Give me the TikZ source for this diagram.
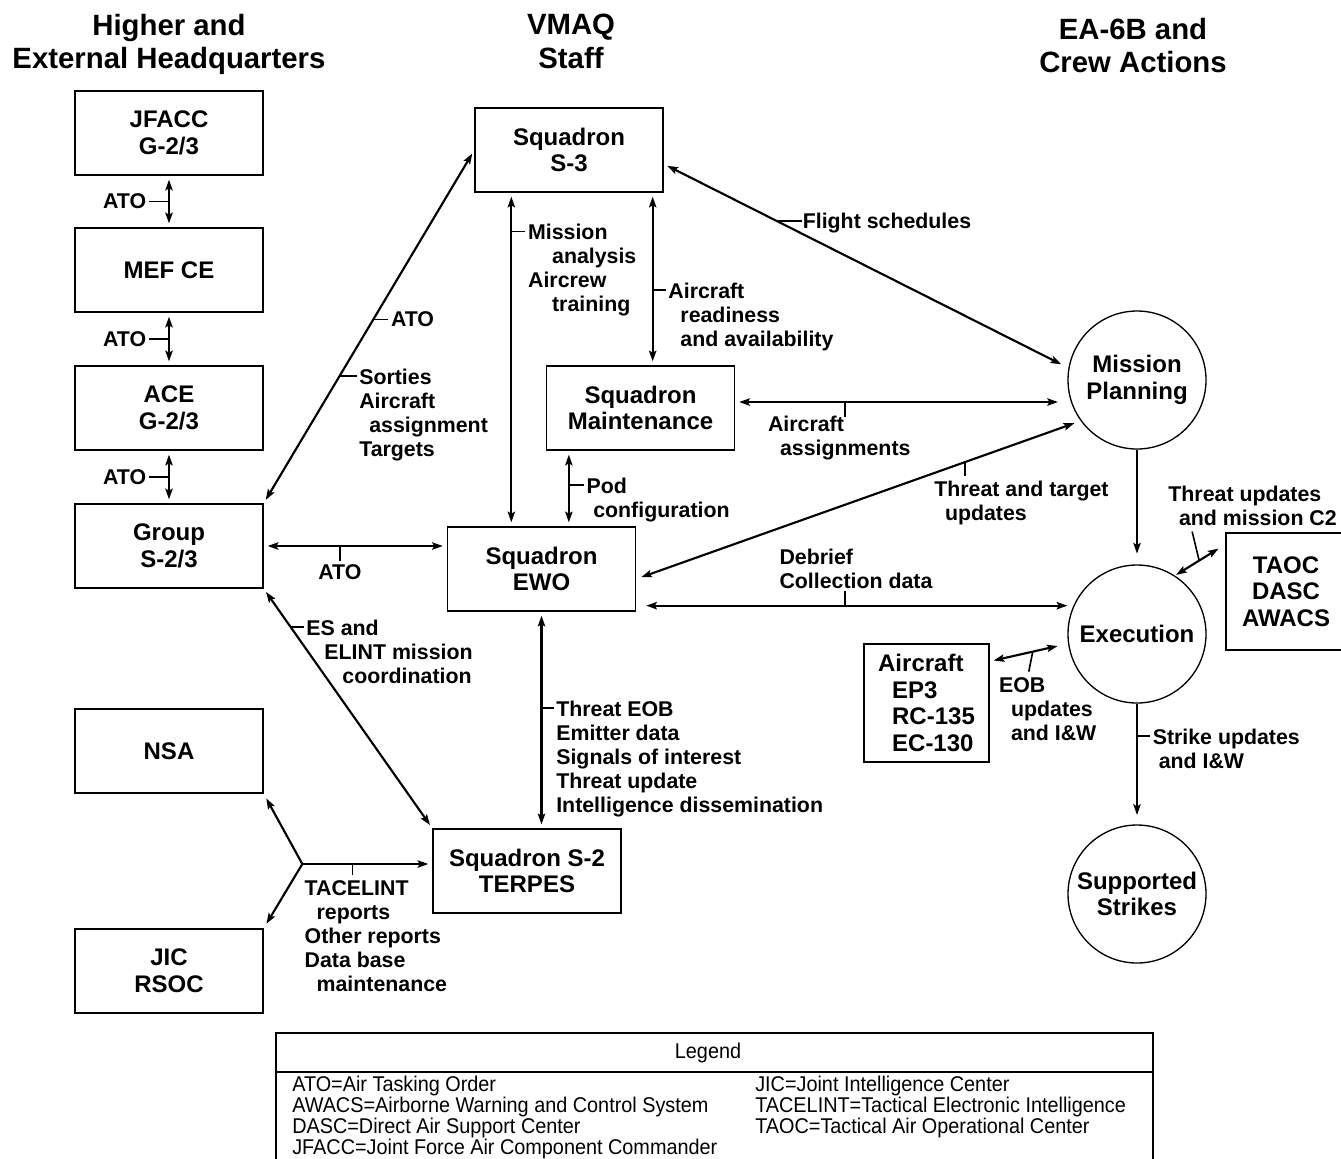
\documentclass[tikz,border=0pt]{standalone}
\usepackage{fontspec}
\setmainfont{Liberation Sans}
\newfontfamily\legendfont[FakeStretch=0.93]{Liberation Sans}
\usetikzlibrary{arrows.meta,calc}

\newcommand{\indnt}[1][9pt]{\hspace*{#1}}

\tikzset{
  unit/.style={draw, line width=1pt, minimum width=141pt, minimum height=63pt, inner sep=0pt, align=center, font=\fontsize{18}{20}\selectfont\bfseries},
  phase/.style={draw, circle, line width=1pt, minimum size=103.5pt, inner sep=0pt, align=center, font=\fontsize{18}{20}\selectfont\bfseries},
  head/.style={align=center, inner sep=0pt, font=\fontsize{22}{25}\selectfont\bfseries},
  lbl/.style={inner sep=0pt, align=left, font=\fontsize{16}{18}\selectfont\bfseries},
  note/.style={lbl, anchor=north west, yshift=5.8pt, xshift=1.5pt},
  tip/.tip={Stealth[length=8pt, width=5.5pt, inset=1.5pt]},
  link/.style={line width=1.6pt, tip-tip, shorten <=3pt, shorten >=3pt},
  feed/.style={line width=1.6pt, -tip, shorten >=3pt},
  tick/.style={line width=1.2pt},
  legtxt/.style={inner sep=0pt, align=left, anchor=north west, font=\legendfont\fontsize{16}{15.75}\selectfont},
}

\begin{document}
\begin{tikzpicture}[x=0.75pt, y=-0.75pt]
\useasboundingbox (0,0) rectangle (1341,1158);

% column headings
\node[head] (hq) at (169,44.5) {Higher and\\External Headquarters};
\node[head] (vmaq) at (571,41.5) {VMAQ\\Staff};
\node[head] (crew) at (1133,45.5) {EA-6B and\\Crew Actions};

% higher and external headquarters
\node[unit] (jfacc) at (169,133) {JFACC\\G-2/3};
\node[unit] (mef) at (169,270) {MEF CE};
\node[unit] (ace) at (169,408) {ACE\\G-2/3};
\node[unit] (grp) at (169,546) {Group\\S-2/3};
\node[unit] (nsa) at (169,751) {NSA};
\node[unit] (jic) at (169,971) {JIC\\RSOC};

% VMAQ staff
\node[unit] (s3) at (569,150) {Squadron\\S-3};
\node[unit] (maint) at (640.5,408) {Squadron\\Maintenance};
\node[unit] (ewo) at (541.5,569) {Squadron\\EWO};
\node[unit] (s2) at (527,871) {Squadron S-2\\TERPES};

% crew actions
\node[phase] (mp) at (1137,380) {Mission\\Planning};
\node[phase] (exec) at (1137,634) {Execution};
\node[phase] (strk) at (1137,894) {Supported\\Strikes};
\node[unit, minimum width=90pt, minimum height=87.75pt] (taoc) at (1286,591.5) {TAOC\\DASC\\AWACS};
\node[unit, minimum width=93.75pt, minimum height=88.5pt, align=left] (acft) at (926.5,703) {Aircraft\\\indnt[10.5pt]EP3\\\indnt[10.5pt]RC-135\\\indnt[10.5pt]EC-130};

% ATO chain
\draw[link] (jfacc) -- coordinate[pos=.5] (a1) (mef);
\draw[link] (mef) -- coordinate[pos=.5] (a2) (ace);
\draw[link] (ace) -- coordinate[pos=.5] (a3) (grp);
\foreach \t in {a1,a2,a3}
  \draw[tick] (\t) -- ++(-20,0) node[lbl, anchor=east, xshift=-1.5pt] {ATO};

% group and S-3
\draw[link] (grp.north east) -- coordinate[pos=.52] (a4) coordinate[pos=.36] (a5) (s3.west);
\draw[tick] (a4) -- ++(15,0) node[lbl, anchor=west, xshift=1.5pt] {ATO};
\draw[tick] (a5) -- ++(17,0) node[note] {Sorties\\Aircraft\\\indnt[7.5pt]assignment\\Targets};

% S-3 and EWO
\coordinate (b0) at ($(s3.south west)+(37,0)$);
\draw[link] (b0) -- coordinate[pos=.116] (b1) (b0 |- ewo.north);
\draw[tick] (b1) -- ++(14,0) node[note] {Mission\\\indnt[18pt]analysis\\Aircrew\\\indnt[18pt]training};

% S-3 and maintenance
\coordinate (c0) at ($(s3.south east)+(-11,0)$);
\draw[link] (c0) -- coordinate[pos=.563] (c1) (c0 |- maint.north);
\draw[tick] (c1) -- ++(13,0) node[note] {Aircraft\\\indnt readiness\\\indnt and availability};

% S-3 and mission planning
\draw[link, shorten >=6pt] ($(s3.east)+(0,14)$) -- coordinate[pos=.28] (s1) (mp.170);
\draw[tick] (s1) -- ++(25,0) node[lbl, anchor=west, yshift=-1.5pt] {Flight schedules};

% maintenance and mission planning
\coordinate (d0) at ($(maint.east)+(0,-6)$);
\draw[link, shorten >=7pt] (d0) -- coordinate[pos=.33] (d1) (d0 -| mp.west);
\draw[tick] (d1) -- ++(0,15) coordinate (d2);
\node[note] (dl) at ($(d2)+(-79,6)$) {Aircraft\\\indnt assignments};

% maintenance and EWO
\coordinate (e0) at ($(maint.south west)+(23,0)$);
\draw[link] (e0) -- coordinate[pos=.455] (e1) (e0 |- ewo.north);
\draw[tick] (e1) -- ++(15,0) node[note] {Pod\\\indnt[5pt]configuration};

% group and EWO
\draw[link] (grp.east) -- coordinate[pos=.416] (g0) (grp.east -| ewo.west);
\draw[tick] (g0) -- ++(0,15) node[lbl, below, inner sep=2pt] {ATO};

% mission planning and EWO
\draw[link, shorten <=4pt, shorten >=5pt] ($(ewo.east)+(0,10)$) -- coordinate[pos=.74] (p1) (mp.216);
\draw[tick] (p1) -- ++(0,14) coordinate (p2);
\node[note] (pl) at ($(p2)+(-33,12)$) {Threat and target\\\indnt[8pt]updates};

% EWO and execution
\coordinate (f0) at ($(ewo.south east)+(0,-6)$);
\draw[link, shorten <=7.5pt, shorten >=0pt] (f0) -- coordinate[pos=.485] (f1) (f0 -| exec.west);
\draw[tick] (f1) -- ++(0,-15) coordinate (f2);
\node[note] (fl) at ($(f2)+(-68,-34)$) {Debrief\\Collection data};

% mission planning to execution
\draw[feed, shorten >=8pt] (mp) -- (exec);

% execution and TAOC
\draw[link, shorten <=1pt, shorten >=6pt] (exec.57) -- coordinate[pos=.48] (q1) ($(taoc.north west)+(0,12)$);
\draw[tick] (q1) -- ++(-7,-29) coordinate (q2);
\node[note] (ql) at ($(q2)+(-26,-38)$) {Threat updates\\\indnt[8pt]and mission C2};

% aircraft and execution
\draw[link, shorten >=8pt] ($(acft.north east)+(0,18)$) -- coordinate[pos=.55] (h1) (exec.188);
\draw[tick] (h1) -- ++(-4,20) coordinate (h2);
\node[note] (hl) at ($(h2)+(-32,13)$) {EOB\\\indnt updates\\\indnt and I\&W};

% execution to supported strikes
\draw[feed, shorten >=7pt] (exec) -- coordinate[pos=.27] (r1) (strk);
\draw[tick] (r1) -- ++(13,0) node[note] {Strike updates\\\indnt[4.5pt]and I\&W};

% group and S-2
\draw[link] (grp.south east) -- coordinate[pos=.16] (k1) (s2.north west);
\draw[tick] (k1) -- ++(13,0) node[note] {ES and\\\indnt[13.5pt]ELINT mission\\\indnt[27pt]coordination};

% EWO and S-2
\draw[link] (ewo.south) -- coordinate[pos=.445] (m1) (ewo.south |- s2.north);
\draw[tick] (m1) -- ++(12,0) node[note] {Threat EOB\\Emitter data\\Signals of interest\\Threat update\\Intelligence dissemination};

% reports to NSA, JIC and S-2
\coordinate (fork) at ($(s2.west)+(-130,-7)$);
\draw[feed] (fork) -- coordinate[pos=.385] (n1) (fork -| s2.west);
\draw[feed, shorten >=4pt] (fork) -- (nsa.south east);
\draw[feed, shorten >=4pt] (fork) -- (jic.north east);
\draw[tick] (n1) -- ++(0,11) coordinate (n2);
\node[note] (nl) at ($(n2)+(-50,13)$) {TACELINT\\\indnt reports\\Other reports\\Data base\\\indnt maintenance};

% legend
\draw[line width=1pt] (276,1175) |- (1153,1033) -- (1153,1175);
\draw[line width=1pt] (276,1072) -- (1153,1072);
\node[font=\legendfont\fontsize{16}{18}\selectfont] (leg) at (708,1053) {Legend};
\node[legtxt] (legl) at (292,1076) {ATO=Air Tasking Order\\AWACS=Airborne Warning and Control System\\DASC=Direct Air Support Center\\JFACC=Joint Force Air Component Commander};
\node[legtxt] (legr) at (755,1076) {JIC=Joint Intelligence Center\\TACELINT=Tactical Electronic Intelligence\\TAOC=Tactical Air Operational Center};
\end{tikzpicture}
\end{document}
